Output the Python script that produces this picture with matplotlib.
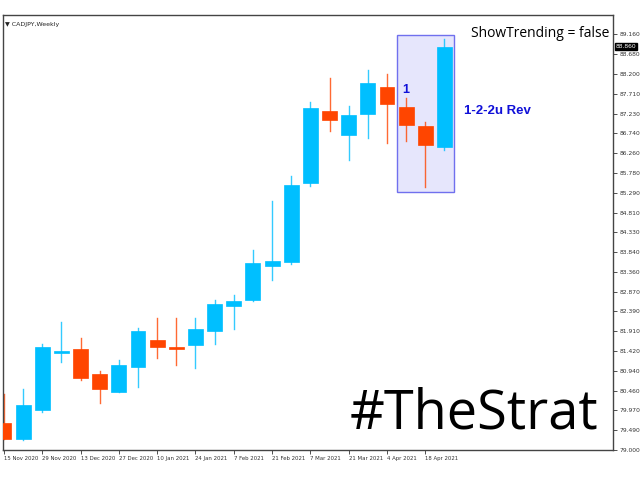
import numpy as np
import matplotlib
matplotlib.use('Agg')
import matplotlib.pyplot as plt
from matplotlib.patches import Rectangle

# weekly CADJPY candles, 15 Nov 2020 .. 25 Apr 2021
weeks = ['15 Nov 2020', '22 Nov 2020', '29 Nov 2020', '6 Dec 2020', '13 Dec 2020',
         '20 Dec 2020', '27 Dec 2020', '3 Jan 2021', '10 Jan 2021', '17 Jan 2021',
         '24 Jan 2021', '31 Jan 2021', '7 Feb 2021', '14 Feb 2021', '21 Feb 2021',
         '28 Feb 2021', '7 Mar 2021', '14 Mar 2021', '21 Mar 2021', '28 Mar 2021',
         '4 Apr 2021', '11 Apr 2021', '18 Apr 2021', '25 Apr 2021']
opens = [79.65, 79.28, 79.97, 81.36, 81.46, 80.87, 80.41, 81.02, 81.70, 81.49,
         81.56, 81.90, 82.51, 82.67, 83.51, 83.59, 85.52, 87.29, 86.69, 87.22,
         87.87, 87.38, 86.91, 86.40]
highs = [80.36, 80.50, 81.58, 82.12, 81.75, 80.92, 81.19, 81.99, 82.22, 82.22,
         82.22, 82.66, 82.78, 83.88, 85.10, 85.69, 87.50, 88.10, 87.40, 88.30,
         88.20, 87.60, 87.01, 89.05]
lows = [79.26, 79.24, 79.92, 81.16, 80.70, 80.14, 80.41, 80.55, 81.24, 81.09,
        81.00, 81.60, 81.97, 82.64, 83.15, 83.54, 85.45, 86.81, 86.08, 86.64,
        86.50, 86.55, 85.42, 86.34]
closes = [79.28, 80.09, 81.51, 81.41, 80.77, 80.48, 81.09, 81.92, 81.53, 81.47,
          81.95, 82.58, 82.64, 83.57, 83.61, 85.49, 87.36, 87.06, 87.18, 87.97,
          87.47, 86.95, 86.45, 88.86]

# price scale labels (right side)
price_labels = ['79.000', '79.490', '79.970', '80.460', '80.940', '81.420', '81.910',
                '82.390', '82.870', '83.360', '83.840', '84.330', '84.810', '85.290',
                '85.780', '86.260', '86.740', '87.230', '87.710', '88.200', '88.680',
                '89.160']
last_price = '88.860'

up_col = '#00BFFF'
dn_col = '#FF4500'

fig = plt.figure(figsize=(6.4, 4.8), dpi=100)
ax = fig.add_axes([3 / 640, 30 / 480, 610 / 640, 435 / 480])

x = np.arange(len(weeks))
for i in x:
    o, h, l, c = opens[i], highs[i], lows[i], closes[i]
    col = up_col if c >= o else dn_col
    ax.plot([i, i], [l, h], color=col, lw=1, alpha=0.8, zorder=2)
    bot = min(o, c)
    hgt = max(abs(c - o), 0.04)
    ax.add_patch(Rectangle((i - 0.39, bot), 0.78, hgt, facecolor=col,
                           edgecolor=col, lw=0.5, zorder=3))

# highlight box around last three candles
box_lo = 85.30
box_hi = 89.15
ax.add_patch(Rectangle((20.5, box_lo), 3.0, box_hi - box_lo, facecolor='#e6e6fc',
                       edgecolor='#7070ee', lw=1, zorder=1))

ax.text(21, 87.79, '1', color='#1010d8', fontsize=9, fontweight='bold',
        family='Liberation Sans', ha='center', va='center', zorder=4)
ax.text(24.0, 87.28, '1-2-2u Rev', color='#1010d8', fontsize=9.5, fontweight='bold',
        family='Liberation Sans', ha='left', va='center', zorder=4)

ax.text(0.9935, 0.958, 'ShowTrending = false', transform=ax.transAxes, ha='right',
        va='center', fontsize=10, family='Open Sans', color='black')
ax.text(0.976, 0.02, '#TheStrat', transform=ax.transAxes, ha='right', va='bottom',
        fontsize=39, family='Open Sans', color='black')
ax.text(0.004, 0.984, '\u25bc CADJPY,Weekly', transform=ax.transAxes, ha='left',
        va='top', fontsize=4.5, color='#222222')

# axes limits / scale
ax.set_xlim(-0.05, 31.8)
ax.set_ylim(79.0, 89.636)

yt = np.linspace(79.0, 89.16, len(price_labels))
ax.yaxis.tick_right()
ax.set_yticks(yt)
ax.set_yticklabels(price_labels)
ax.tick_params(axis='y', direction='out', length=3, width=0.6, labelsize=4.3,
               colors='#333333', pad=2)

ax.set_xticks(x[::2])
ax.set_xticklabels(weeks[::2], ha='left')
ax.tick_params(axis='x', direction='out', length=3, width=0.6, labelsize=3.9,
               colors='#333333', pad=1)

for s in ax.spines.values():
    s.set_color('#444444')
    s.set_linewidth(1)

# current price marker on the scale
ax.text(1.004, 88.86, last_price, transform=ax.get_yaxis_transform(), ha='left',
        va='center', fontsize=4.3, color='white',
        bbox=dict(boxstyle='square,pad=0.15', facecolor='black', edgecolor='black'))

fig.savefig('out.png', dpi=100)
